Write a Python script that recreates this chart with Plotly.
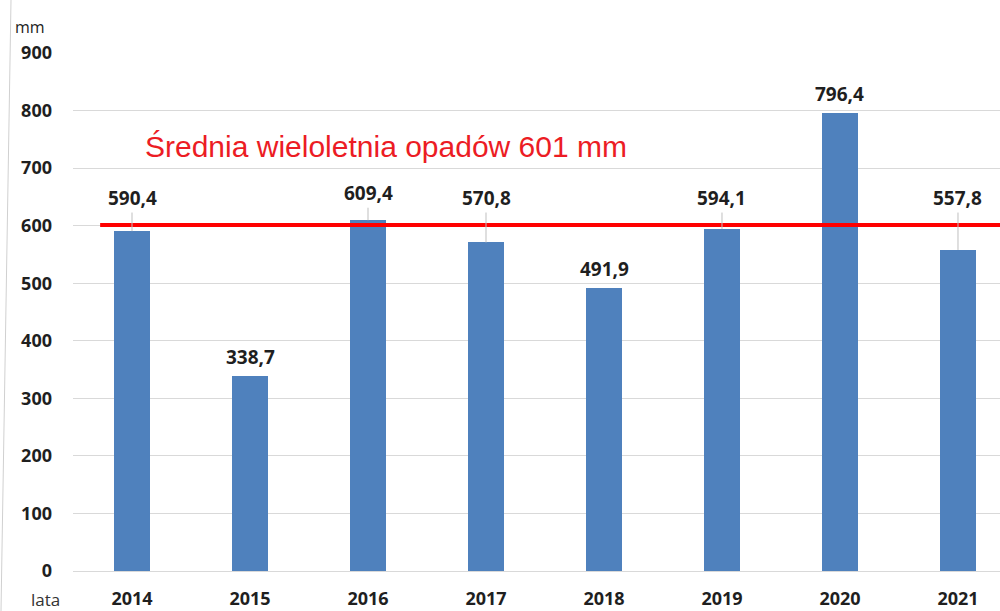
import plotly.graph_objects as go

years = ["2014", "2015", "2016", "2017", "2018", "2019", "2020", "2021"]
rainfall = [590.4, 338.7, 609.4, 570.8, 491.9, 594.1, 796.4, 557.8]
labels = ["590,4", "338,7", "609,4", "570,8", "491,9", "594,1", "796,4", "557,8"]
average = 601
avg_text = "Średnia wieloletnia opadów 601 mm"
y_ticks = [0, 100, 200, 300, 400, 500, 600, 700, 800, 900]

BAR = "#4f81bd"
BOLD = "Open Sans"
TXT = "#1f1f1f"

fig = go.Figure()
fig.add_trace(go.Bar(
    x=list(range(len(years))), y=rainfall, width=0.305,
    marker=dict(color=BAR, line=dict(width=0)),
    hoverinfo="skip",
))

# average line
fig.add_shape(type="line", xref="x", yref="y", x0=-0.27, x1=7.6,
              y0=average, y1=average, line=dict(color="#ff0000", width=4))

annotations = []
for i, (v, t) in enumerate(zip(rainfall, labels)):
    near = abs(v - average) < 60
    if near:
        # label lifted above the average line with a leader line
        ly = max(v, average) + 47
        annotations.append(dict(
            x=i, y=v, xref="x", yref="y", ax=i, ay=ly, axref="x", ayref="y",
            text=t, showarrow=True, arrowhead=0, arrowwidth=1,
            arrowcolor="#bfbfbf", standoff=0, startstandoff=0,
            font=dict(family=BOLD, size=19, color=TXT, weight="bold"),
        ))
    else:
        annotations.append(dict(
            x=i, y=v, xref="x", yref="y", text=t, showarrow=False,
            yanchor="bottom", yshift=4,
            font=dict(family=BOLD, size=19, color=TXT, weight="bold"),
        ))

annotations.append(dict(
    x=0.09, y=737, xref="x", yref="y", text=avg_text, showarrow=False,
    xanchor="left", yanchor="middle",
    font=dict(family="Liberation Sans", size=30, color="#ec1c24"),
))
annotations.append(dict(
    x=13, y=27, text="mm", showarrow=False,
    xanchor="left", yanchor="middle",
    font=dict(family="Open Sans", size=16, color="#222222"),
))
annotations.append(dict(
    x=29, y=599, text="lata", showarrow=False,
    xanchor="left", yanchor="middle",
    font=dict(family="Open Sans", size=17, color="#333333"),
))
# convert pixel annotations to paper coordinates
L, T, W, H = 73, 53, 927, 518
for a in annotations[-2:]:
    px, py = a["x"], a["y"]
    a["x"] = (px - L) / W
    a["y"] = 1 - (py - T) / H
    a["xref"] = "paper"
    a["yref"] = "paper"

fig.update_layout(
    width=1000, height=611,
    margin=dict(l=L, r=0, t=T, b=611 - T - H, pad=0, autoexpand=False),
    paper_bgcolor="white", plot_bgcolor="white",
    showlegend=False, bargap=0,
    annotations=annotations,
    xaxis=dict(
        range=[-0.5, 7.356], tickmode="array",
        tickvals=list(range(len(years))), ticktext=years,
        showgrid=False, zeroline=False, showline=False, ticks="",
        ticklabelstandoff=15, automargin=False,
        tickfont=dict(family=BOLD, size=18, color=TXT, weight="bold"),
        fixedrange=True,
    ),
    yaxis=dict(
        range=[0, 900], tickmode="array", tickvals=y_ticks,
        showgrid=True, gridcolor="#d9d9d9", gridwidth=1,
        zeroline=True, zerolinecolor="#d9d9d9", zerolinewidth=1,
        showline=False, ticks="", ticklabelstandoff=20, automargin=False,
        tickfont=dict(family=BOLD, size=18, color=TXT, weight="bold"),
        fixedrange=True,
    ),
)

# faint scan border at the left
fig.add_shape(type="line", xref="paper", yref="paper",
              x0=(11 - L) / W, y0=1 + T / H, x1=(1 - L) / W, y1=1 - (611 - T) / H,
              line=dict(color="#d0d0d0", width=1))

fig.write_html(
    "out.html",
    config={"displayModeBar": False},
    post_script="document.body.style.margin='0';document.body.style.overflow='hidden';",
)
